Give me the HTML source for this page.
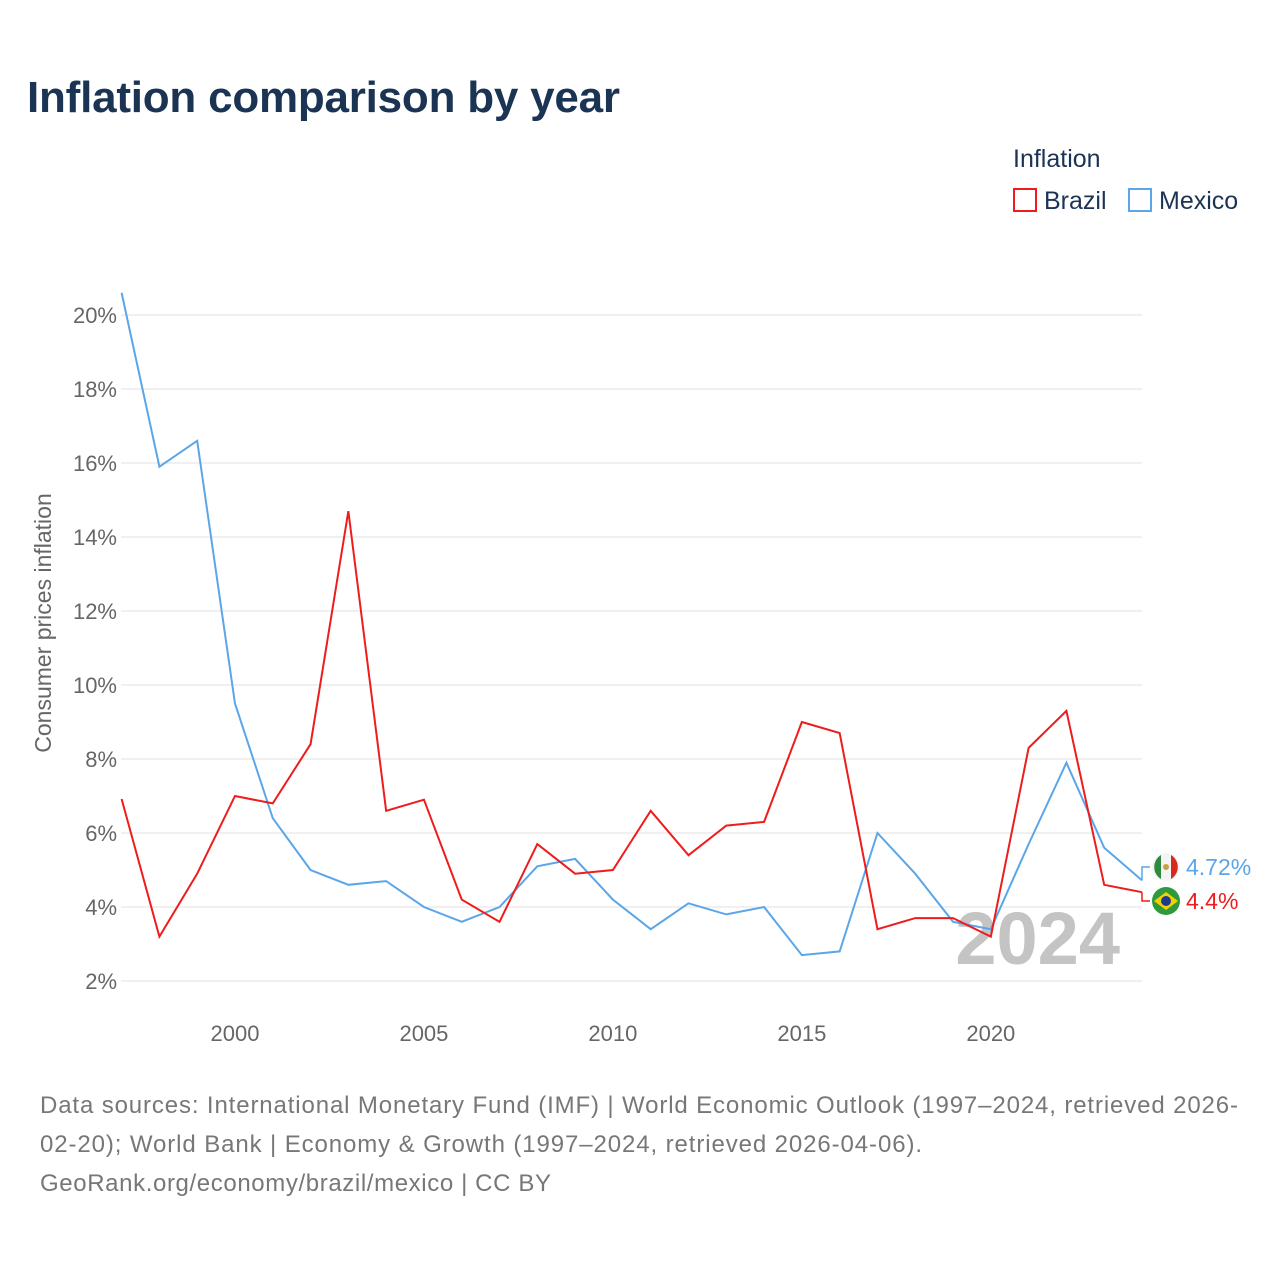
<!DOCTYPE html>
<html><head><meta charset="utf-8">
<style>
body{margin:0;background:#fff;font-family:"Liberation Sans",sans-serif;}
#wrap{position:relative;width:1280px;height:1280px;overflow:hidden;}
</style></head>
<body><div id="wrap">
<svg id="chart" width="1280" height="1280">
<text x="27" y="112" font-size="44" font-weight="bold" fill="#1b3454" textLength="593">Inflation comparison by year</text>
<text x="1013" y="167" font-size="25" fill="#1b3454">Inflation</text>
<g><rect x="1014" y="189" width="22" height="22" fill="none" stroke="#ee1c1c" stroke-width="2"/><text x="1044" y="209" font-size="25" fill="#1b3454">Brazil</text></g>
<g><rect x="1129" y="189" width="22" height="22" fill="none" stroke="#5aa6e8" stroke-width="2"/><text x="1159" y="209" font-size="25" fill="#1b3454">Mexico</text></g>
<text transform="translate(51,623) rotate(-90)" text-anchor="middle" font-size="23" fill="#666">Consumer prices inflation</text>
<g id="grid"></g><g id="yt"></g><g id="xt"></g>
<text x="1120" y="964" text-anchor="end" font-size="74" font-weight="bold" fill="#c4c4c4">2024</text>
<g id="lines"></g><g id="ends"></g>
<text font-size="24" fill="#777"><tspan x="40" y="1113" textLength="1198">Data sources: International Monetary Fund (IMF) | World Economic Outlook (1997–2024, retrieved 2026-</tspan><tspan x="40" y="1152" textLength="882">02-20); World Bank | Economy &amp; Growth (1997–2024, retrieved 2026-04-06).</tspan><tspan x="40" y="1191" textLength="511">GeoRank.org/economy/brazil/mexico | CC BY</tspan></text>
</svg>
<script>
const years=[1997,1998,1999,2000,2001,2002,2003,2004,2005,2006,2007,2008,2009,2010,2011,2012,2013,2014,2015,2016,2017,2018,2019,2020,2021,2022,2023,2024];
const brazil=[6.92,3.2,4.9,7.0,6.8,8.4,14.7,6.6,6.9,4.2,3.6,5.7,4.9,5.0,6.6,5.4,6.2,6.3,9.0,8.7,3.4,3.7,3.7,3.2,8.3,9.3,4.6,4.4];
const mexico=[20.6,15.9,16.6,9.5,6.4,5.0,4.6,4.7,4.0,3.6,4.0,5.1,5.3,4.2,3.4,4.1,3.8,4.0,2.7,2.8,6.0,4.9,3.6,3.4,5.7,7.9,5.6,4.72];
const yTicks=[2,4,6,8,10,12,14,16,18,20];
const xTicks=[2000,2005,2010,2015,2020];
const NS="http://www.w3.org/2000/svg";
const X=y=>121.6+(y-1997)*(1142-121.6)/27;
const Y=v=>315+(20-v)*37;
function mk(t,a,p){const e=document.createElementNS(NS,t);for(const k in a)e.setAttribute(k,a[k]);p.appendChild(e);return e;}
const grid=document.getElementById('grid'),yt=document.getElementById('yt'),xt=document.getElementById('xt');
yTicks.forEach(v=>{
 const l=mk('line',{x1:121,x2:1142,y1:Y(v),y2:Y(v),stroke:'#e8e8e8','stroke-width':1.3},grid);
 
 
 const t=mk('text',{x:117,y:Y(v)+8,'text-anchor':'end','font-size':22,fill:'#666'},yt);t.textContent=v+'%';
 
 
});
xTicks.forEach(v=>{
 const t=mk('text',{x:X(v),y:1041,'text-anchor':'middle','font-size':22,fill:'#666'},xt);t.textContent=v;
 
 
});
const lines=document.getElementById('lines');
[[mexico,'#5aa6e8','mexico-line'],[brazil,'#ee1c1c','brazil-line']].forEach(([d,c,n])=>{
 const p=mk('polyline',{points:d.map((v,i)=>X(years[i])+','+Y(v)).join(' '),fill:'none',stroke:c,'stroke-width':2},lines);
 
 
});
const ends=document.getElementById('ends');
const lm=mexico[mexico.length-1],lb=brazil[brazil.length-1];
const g1=mk('g',{},ends);


mk('polyline',{points:`${X(2024)},${Y(lm)} 1142,${Y(lm)} 1142,867 1150,867`,fill:'none',stroke:'#5aa6e8','stroke-width':1.5},g1);
mk('circle',{cx:1166,cy:867,r:14,fill:'#f4f4f4'},g1);
mk('path',{d:'M1161,855 A14,14 0 0 0 1161,879 Z',fill:'#2e8b3e'},g1);
mk('path',{d:'M1171,855 A14,14 0 0 1 1171,879 Z',fill:'#d52b1e'},g1);
mk('circle',{cx:1166,cy:867,r:3,fill:'#c8a040'},g1);
const t1=mk('text',{x:1186,y:875,'font-size':23,fill:'#5aa6e8'},g1);t1.textContent=lm+'%';
const g2=mk('g',{},ends);


mk('polyline',{points:`${X(2024)},${Y(lb)} 1142,${Y(lb)} 1142,901 1150,901`,fill:'none',stroke:'#ee1c1c','stroke-width':1.5},g2);
mk('circle',{cx:1166,cy:901,r:14,fill:'#2e9a3c'},g2);
mk('polygon',{points:'1154,901 1166,892 1178,901 1166,910',fill:'#f5d000'},g2);
mk('circle',{cx:1166,cy:901,r:5,fill:'#1e3a8c'},g2);
const t2=mk('text',{x:1186,y:909,'font-size':23,fill:'#ee1c1c'},g2);t2.textContent=lb+'%';
</script>
</div></body></html>
